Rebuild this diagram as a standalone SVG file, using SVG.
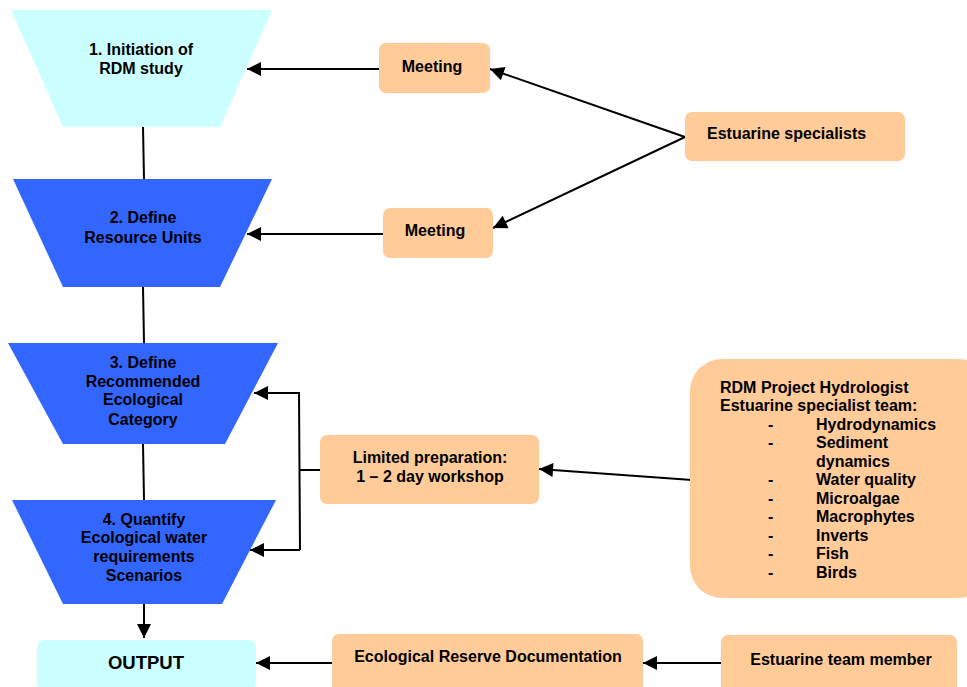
<svg xmlns="http://www.w3.org/2000/svg" width="967" height="687" viewBox="0 0 967 687">
<defs>
<style>
text{font-family:"Liberation Sans",Arial,sans-serif;font-weight:bold;font-size:16px;fill:#000;}
.c{text-anchor:middle;}
.box{fill:#FFCC99;}
.cyan{fill:#CCFFFF;}
.blue{fill:#3366FF;}
.ln{stroke:#000;stroke-width:2;fill:none;}
</style>
<marker id="ahl" viewBox="0 0 10 10" refX="10" refY="5" markerWidth="16" markerHeight="14" markerUnits="userSpaceOnUse" orient="auto">
<path d="M0,0 L10,5 L0,10 Z" fill="#000"/>
</marker>
</defs>
<rect width="967" height="687" fill="#fff"/>
<g id="connectors">
<line class="ln" x1="143" y1="127" x2="144" y2="179"/>
<line class="ln" x1="143" y1="287" x2="144" y2="343"/>
<line class="ln" x1="143" y1="444" x2="144" y2="500"/>
<line class="ln" x1="144" y1="604" x2="144" y2="638" marker-end="url(#ahl)"/>
<line class="ln" x1="379" y1="69" x2="247" y2="69" marker-end="url(#ahl)"/>
<line class="ln" x1="383" y1="234" x2="247" y2="234" marker-end="url(#ahl)"/>
<line class="ln" x1="685" y1="137" x2="490" y2="69" marker-end="url(#ahl)"/>
<line class="ln" x1="685" y1="137" x2="493" y2="228" marker-end="url(#ahl)"/>
<line class="ln" x1="320" y1="470" x2="299" y2="470"/>
<polyline class="ln" points="300,550 299,393 254,393" marker-end="url(#ahl)"/>
<line class="ln" x1="300" y1="550" x2="250" y2="550" marker-end="url(#ahl)"/>
<line class="ln" x1="692" y1="480" x2="539" y2="469" marker-end="url(#ahl)"/>
<line class="ln" x1="332" y1="663" x2="256" y2="663" marker-end="url(#ahl)"/>
<line class="ln" x1="721" y1="663" x2="643" y2="663" marker-end="url(#ahl)"/>
</g>
<g id="step1">
<polygon class="cyan" points="11,10 272,10 220,127 63,127"/>
<text class="c" x="141" y="55">1. Initiation of</text>
<text class="c" x="141" y="74">RDM study</text>
</g>
<g id="step2">
<polygon class="blue" points="13,179 272,179 220,287 63,287"/>
<text class="c" x="143" y="223">2. Define</text>
<text class="c" x="143" y="243">Resource Units</text>
</g>
<g id="step3">
<polygon class="blue" points="8,343 278,343 225,444 63,444"/>
<text class="c" x="143" y="368">3. Define</text>
<text class="c" x="143" y="387">Recommended</text>
<text class="c" x="143" y="405">Ecological</text>
<text class="c" x="143" y="425">Category</text>
</g>
<g id="step4">
<polygon class="blue" points="12,500 276,500 222,604 63,604"/>
<text class="c" x="144" y="525">4. Quantify</text>
<text class="c" x="144" y="543">Ecological water</text>
<text class="c" x="144" y="562">requirements</text>
<text class="c" x="144" y="581">Scenarios</text>
</g>
<g id="output">
<rect class="cyan" x="37" y="640" width="219" height="50" rx="7"/>
<text class="c" x="146" y="669" style="font-size:18.5px">OUTPUT</text>
</g>
<g id="meeting1">
<rect class="box" x="379" y="43" width="111" height="50" rx="7"/>
<text class="c" x="432" y="72">Meeting</text>
</g>
<g id="meeting2">
<rect class="box" x="383" y="208" width="110" height="50" rx="7"/>
<text class="c" x="435" y="236">Meeting</text>
</g>
<g id="specialists">
<rect class="box" x="685" y="112" width="220" height="49" rx="7"/>
<text x="707" y="139">Estuarine specialists</text>
</g>
<g id="workshop">
<rect class="box" x="320" y="435" width="219" height="69" rx="7"/>
<text class="c" x="430" y="463">Limited preparation:</text>
<text class="c" x="430" y="482">1 – 2 day workshop</text>
</g>
<g id="team">
<rect class="box" x="690" y="359" width="300" height="239" rx="32"/>
<text x="720" y="393">RDM Project Hydrologist</text>
<text x="720" y="411">Estuarine specialist team:</text>
<text x="768" y="430">-</text><text x="816" y="430">Hydrodynamics</text>
<text x="768" y="448">-</text><text x="816" y="448">Sediment</text>
<text x="816" y="467">dynamics</text>
<text x="768" y="485">-</text><text x="816" y="485">Water quality</text>
<text x="768" y="504">-</text><text x="816" y="504">Microalgae</text>
<text x="768" y="522">-</text><text x="816" y="522">Macrophytes</text>
<text x="768" y="541">-</text><text x="816" y="541">Inverts</text>
<text x="768" y="559">-</text><text x="816" y="559">Fish</text>
<text x="768" y="578">-</text><text x="816" y="578">Birds</text>
</g>
<g id="documentation">
<rect class="box" x="332" y="634" width="311" height="60" rx="7"/>
<text class="c" x="488" y="662">Ecological Reserve Documentation</text>
</g>
<g id="member">
<rect class="box" x="721" y="635" width="236" height="60" rx="7"/>
<text class="c" x="841" y="665">Estuarine team member</text>
</g>
</svg>
